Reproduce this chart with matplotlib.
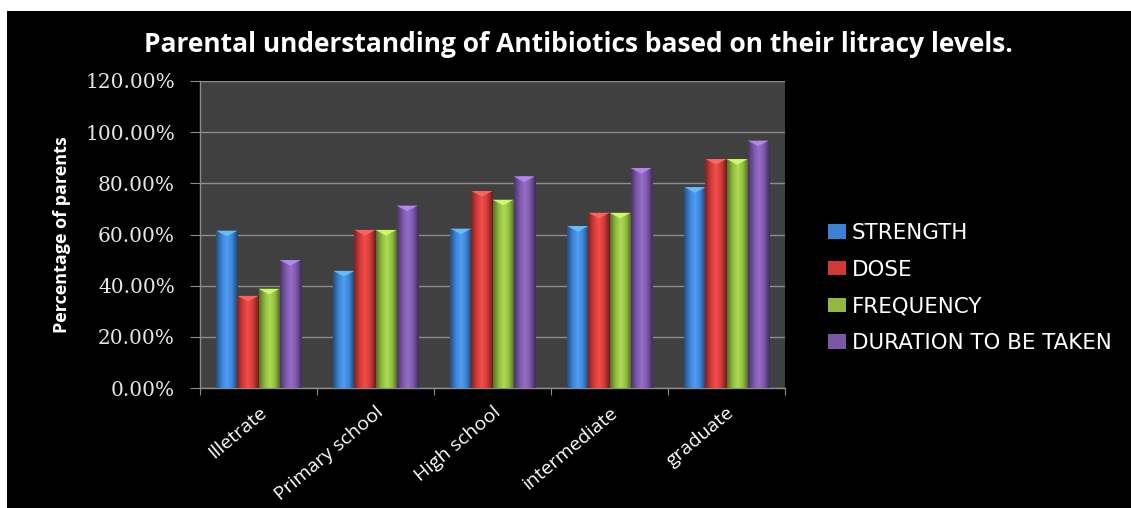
import matplotlib
matplotlib.use("Agg")
import matplotlib.pyplot as plt
import numpy as np
from matplotlib.patches import Rectangle, Polygon
from matplotlib.colors import LinearSegmentedColormap, to_rgb

categories = ["Illetrate", "Primary school", "High school", "intermediate", "graduate"]
series_names = ["STRENGTH", "DOSE", "FREQUENCY", "DURATION TO BE TAKEN"]
strength = [61.5, 45.8, 62.3, 63.3, 78.5]
dose = [36.0, 61.8, 77.0, 68.5, 89.5]
frequency = [38.8, 61.8, 73.6, 68.5, 89.5]
duration = [50.0, 71.3, 82.7, 86.0, 96.7]
series_values = [strength, dose, frequency, duration]
colors = ["#3c82d2", "#cf3a38", "#8fba3f", "#7b57a8"]
yticks = [0, 20, 40, 60, 80, 100, 120]

W, H = 1131, 508
fig = plt.figure(figsize=(W / 100, H / 100), dpi=100)
fig.patch.set_facecolor("black")
fig.patches.append(Rectangle((0, 1 - 11 / H), 1, 11 / H, transform=fig.transFigure,
                             facecolor="white", edgecolor="none"))
fig.patches.append(Rectangle((0, 0), 7 / W, 1, transform=fig.transFigure,
                             facecolor="white", edgecolor="none"))

ax = fig.add_axes([200 / W, 1 - 388 / H, (785 - 200) / W, (388 - 81) / H])
ax.set_facecolor("#404040")

n = len(series_names)
bw = 0.18
x = np.arange(len(categories))
for i, (name, vals, c) in enumerate(zip(series_names, series_values, colors)):
    offs = (i - (n - 1) / 2) * bw
    bars = ax.bar(x + offs, vals, width=bw, color=c, label=name, zorder=3,
                  edgecolor="none")
    base = np.array(to_rgb(c))
    dark = base * 0.6
    light = np.minimum(base * 1.12 + 0.05, 1)
    cmap = LinearSegmentedColormap.from_list("g" + str(i), [dark, base, light, base, dark * 0.85])
    grad = np.linspace(0, 1, 64).reshape(1, -1)
    for b in bars:
        bx, by = b.get_x(), b.get_y()
        bwid, bh = b.get_width(), b.get_height()
        im = ax.imshow(grad, cmap=cmap, extent=[bx, bx + bwid, by, by + bh],
                       aspect="auto", zorder=4, interpolation="bicubic")
        im.set_clip_path(b)
        cap_h = 2.2
        tri = Polygon([[bx, by + bh], [bx + bwid, by + bh], [bx + bwid * 0.5, by + bh - cap_h]],
                      closed=True, facecolor=np.minimum(base * 1.25 + 0.12, 1),
                      edgecolor="none", zorder=5, alpha=0.9)
        ax.add_patch(tri)

ax.set_xlim(-0.5, len(categories) - 0.5)
ax.set_ylim(0, 120)
ax.set_yticks(yticks)
ax.set_yticklabels([f"{v:.2f}%" for v in yticks], family="DejaVu Serif",
                   fontsize=14.5, color="#e6e6e6")
ax.set_xticks(np.arange(len(categories) + 1) - 0.5)
ax.set_xticklabels([])
ax.set_xticks(x, minor=True)
ax.set_xticklabels(categories, minor=True, rotation=40, ha="right",
                   rotation_mode="anchor", fontsize=14, color="white",
                   family="Open Sans")
ax.tick_params(axis="x", which="minor", length=0, pad=11)
ax.tick_params(axis="x", which="major", length=5, color="#8c8c8c", direction="out")
ax.tick_params(axis="y", length=7, color="#8c8c8c", direction="out", pad=11)
ax.grid(axis="y", color="#8c8c8c", linewidth=1.0, zorder=1)
ax.set_axisbelow(True)
for s in ["top", "right"]:
    ax.spines[s].set_visible(False)
for s in ["left", "bottom"]:
    ax.spines[s].set_color("#8c8c8c")
    ax.spines[s].set_linewidth(1.0)

ax.set_ylabel("Percentage of parents", fontsize=13, fontweight="bold",
              color="white", family="Open Sans", labelpad=10)

fig.text(578 / W, 1 - 44 / H, "Parental understanding of Antibiotics based on their litracy levels.",
         ha="center", va="center", fontsize=19, fontweight="bold",
         color="white", family="Open Sans")

handles, labels = ax.get_legend_handles_labels()
leg = fig.legend(handles, labels, loc="center left",
                 bbox_to_anchor=(809 / W, 1 - 288 / H), frameon=False,
                 labelcolor="white", handlelength=0.85,
                 handleheight=0.65, handletextpad=0.25, labelspacing=0.78,
                 prop={"family": "DejaVu Sans", "size": 15.4})

fig.savefig("out.png", dpi=100, facecolor=fig.get_facecolor())
